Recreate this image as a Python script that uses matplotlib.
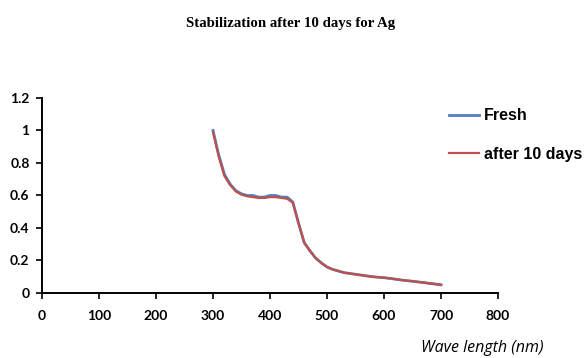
import matplotlib.pyplot as plt
import numpy as np

# absorbance, every 10 nm from 300 to 700
wavelength = np.arange(300, 710, 10)
fresh = [1.00, 0.85, 0.73, 0.67, 0.63, 0.61, 0.60, 0.60, 0.59, 0.59,
         0.60, 0.60, 0.59, 0.59, 0.56, 0.43, 0.31, 0.26, 0.215, 0.185,
         0.16, 0.145, 0.135, 0.125, 0.12, 0.115, 0.11, 0.105, 0.10, 0.097,
         0.094, 0.09, 0.085, 0.08, 0.076, 0.072, 0.068, 0.064, 0.059, 0.055, 0.05]
after_10_days = [0.99, 0.84, 0.72, 0.665, 0.625, 0.605, 0.595, 0.59, 0.585, 0.585,
                 0.59, 0.59, 0.585, 0.58, 0.555, 0.43, 0.31, 0.26, 0.215, 0.185,
                 0.16, 0.145, 0.135, 0.125, 0.12, 0.115, 0.11, 0.105, 0.10, 0.097,
                 0.094, 0.09, 0.085, 0.08, 0.076, 0.072, 0.068, 0.064, 0.059, 0.055, 0.05]
x_ticks = [0, 100, 200, 300, 400, 500, 600, 700, 800]
y_ticks = [0, 0.2, 0.4, 0.6, 0.8, 1.0, 1.2]
y_labels = ['0', '0.2', '0.4', '0.6', '0.8', '1', '1.2']

fig = plt.figure(figsize=(5.85, 3.58), dpi=100)
ax = fig.add_axes([0.0718, 0.1816, 0.7795, 0.5447])

ax.plot(wavelength, fresh, color='#4f81bd', lw=2.0, label='Fresh')
ax.plot(wavelength, after_10_days, color='#c0504d', lw=1.6, label='after 10 days')

ax.set_xlim(0, 800)
ax.set_ylim(0, 1.2)
ax.set_xticks(x_ticks)
ax.set_xticklabels([str(t) for t in x_ticks])
ax.set_yticks(y_ticks)
ax.set_yticklabels(y_labels)
for lab in ax.get_xticklabels() + ax.get_yticklabels():
    lab.set_family('Lato')
    lab.set_weight('bold')
    lab.set_fontsize(10)

for s in ['top', 'right']:
    ax.spines[s].set_visible(False)
for s in ['left', 'bottom']:
    ax.spines[s].set_linewidth(1.4)
ax.tick_params(direction='out', length=4, width=1.2)
ax.tick_params(axis='x', pad=8)
ax.tick_params(axis='y', pad=5)

fig.text(0.496, 0.935, 'Stabilization after 10 days for Ag', ha='center', va='center',
         family='Liberation Serif', weight='bold', fontsize=10.7)
fig.text(0.824, 0.027, 'Wave length (nm)', ha='center', va='center',
         family='Open Sans', style='italic', fontsize=11.5)

ax.legend(loc='upper left', bbox_to_anchor=(0.767, 0.697), bbox_transform=fig.transFigure,
          frameon=False, borderpad=0, borderaxespad=0, handlelength=1.88,
          handletextpad=0.3, labelspacing=1.45,
          prop={'family': 'Liberation Sans', 'weight': 'bold', 'size': 11.5})

fig.savefig('out.png', dpi=100)
